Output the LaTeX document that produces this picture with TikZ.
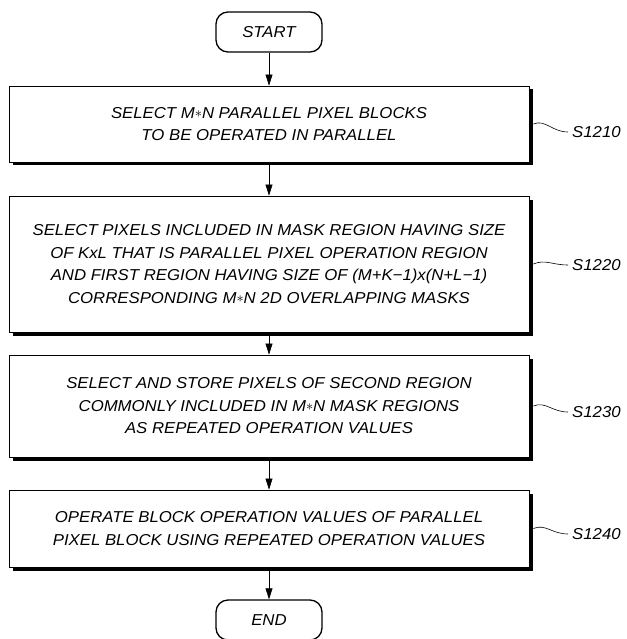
\documentclass[tikz,border=0pt]{standalone}
\usepackage{fontspec}
\newfontfamily\flowfont{Liberation Sans}[FakeStretch=1.06]
\usetikzlibrary{arrows.meta,shadows,calc}

\tikzset{
  txt/.style={font=\flowfont\itshape\fontsize{15.8}{22.5}\selectfont},
  procbox/.style={txt, draw, line width=0.8pt, fill=white, align=center,
    minimum width=520pt, inner sep=0pt,
    drop shadow={shadow xshift=3.5pt, shadow yshift=-3.5pt, fill=black, opacity=1}},
  termbox/.style={txt, draw, line width=1.3pt, rounded corners=12pt,
    minimum width=106pt, minimum height=40pt, inner sep=0pt},
  flow/.style={line width=0.6pt, -{Triangle[length=11pt,width=7pt]}},
  steplabel/.style={txt, anchor=west, inner sep=0pt},
  leader/.style={line width=0.6pt}
}
\newcommand{\tms}{\raisebox{0.5pt}{$\ast$}}

\begin{document}
\begin{tikzpicture}[x=1pt,y=1pt]
  \useasboundingbox (0,0) rectangle (626,-639);

  \node[termbox] (start) at (269,-32) {START};

  \node[procbox, minimum height=76pt] (b1) at (269,-124)
    {SELECT M\tms N PARALLEL PIXEL BLOCKS\\TO BE OPERATED IN PARALLEL};
  \node[procbox, minimum height=136pt] (b2) at (269,-264)
    {SELECT PIXELS INCLUDED IN MASK REGION HAVING SIZE\\
     OF KxL THAT IS PARALLEL PIXEL OPERATION REGION\\
     AND FIRST REGION HAVING SIZE OF (M+K−1)x(N+L−1)\\
     CORRESPONDING M\tms N 2D OVERLAPPING MASKS};
  \node[procbox, minimum height=102pt] (b3) at (269,-406)
    {SELECT AND STORE PIXELS OF SECOND REGION\\
     COMMONLY INCLUDED IN M\tms N MASK REGIONS\\
     AS REPEATED OPERATION VALUES};
  \node[procbox, minimum height=77pt] (b4) at (269,-528.5)
    {OPERATE BLOCK OPERATION VALUES OF PARALLEL\\
     PIXEL BLOCK USING REPEATED OPERATION VALUES};

  \node[termbox] (end) at (269,-620) {END};

  % main flow
  \draw[flow] (start) -- (b1);
  \draw[flow] (b1) -- (b2);
  \draw[flow] (b2) -- (b3);
  \draw[flow] (b3) -- (b4);
  \draw[flow] (b4) -- (end);

  % step labels with wavy leaders
  \node[steplabel] (l1) at (572,-132) {S1210};
  \node[steplabel] (l2) at (572,-265) {S1220};
  \node[steplabel] (l3) at (572,-412) {S1230};
  \node[steplabel] (l4) at (572,-534) {S1240};

  \foreach \b/\l in {b1/l1, b2/l2, b3/l3, b4/l4}{
    \coordinate (p) at ($(\b.east)+(4,0)$);
    \coordinate (q) at ($(\l.west)+(-4,0)$);
    \draw[leader] (p) .. controls ($(p)+(12,5)$) and ($(q)+(-16,0)$) .. (q);
  }
\end{tikzpicture}
\end{document}
